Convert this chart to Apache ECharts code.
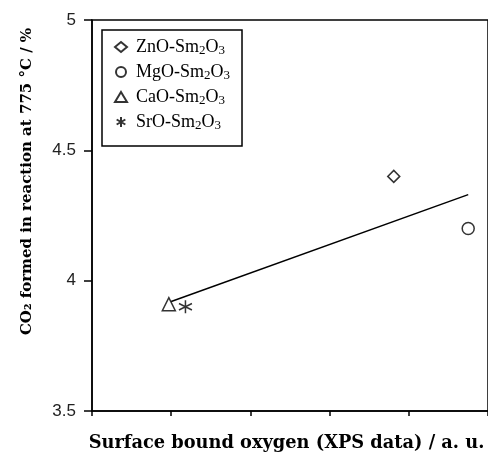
<!DOCTYPE html>
<html>
<head>
<meta charset="utf-8">
<script src="https://cdn.jsdelivr.net/npm/echarts@6/dist/echarts.min.js"></script>
<style>
  html, body { margin: 0; padding: 0; background: #fff; }
  #chart { width: 488px; height: 457px; }
</style>
</head>
<body>
<div id="chart"></div>
<script>
const catalysts = ['ZnO-Sm₂O₃', 'MgO-Sm₂O₃', 'CaO-Sm₂O₃', 'SrO-Sm₂O₃']
const symbols = ['diamond', 'circle', 'triangle', 'path://M0,-10L0,10M-8.7,-5L8.7,5M-8.7,5L8.7,-5']
const symbolSizes = [12, 12, 13, 13]
const oxygenXps = [3.81, 4.75, 0.97, 1.18]
const co2Formed = [4.40, 4.20, 3.91, 3.90]
// linear fit line ends
const fitX = [1.0, 4.75]
const fitY = [3.92, 4.33]
const yTicks = [3.5, 4, 4.5, 5]

const chart = echarts.init(document.getElementById('chart'))

const series = catalysts.map((name, i) => ({
  name: name,
  type: 'scatter',
  symbol: symbols[i],
  symbolSize: symbolSizes[i],
  itemStyle: {
    color: i === 3 ? 'none' : '#fff',
    borderColor: '#000',
    borderWidth: 1.5
  },
  data: [[oxygenXps[i], co2Formed[i]]],
  z: 3
}))

series.push({
  name: 'fit',
  type: 'line',
  symbol: 'none',
  lineStyle: { color: '#000', width: 1.5 },
  data: fitX.map((x, i) => [x, fitY[i]]),
  z: 2
})

// turn the unicode subscripts into rich text so they sit lower and bigger
const subMap = { '₂': '2', '₃': '3' }
const richName = (name) =>
  '{g| }' + name.split(/([₂₃])/).filter(s => s).map(s => subMap[s] ? '{s|' + subMap[s] + '}' : '{t|' + s + '}').join('')

chart.setOption({
  animation: false,
  grid: {
    left: 92,
    top: 20,
    right: -4,
    bottom: 45,
    show: true,
    borderColor: '#000',
    borderWidth: 1.5
  },
  legend: {
    data: catalysts,
    orient: 'vertical',
    left: 102,
    top: 30,
    padding: [8, 12, 14, 12],
    itemGap: 6,
    itemWidth: 12,
    itemHeight: 10,
    borderColor: '#000',
    borderWidth: 1.5,
    formatter: richName,
    textStyle: {
      color: '#000',
      rich: {
        g: { width: 4, fontSize: 10 },
        t: { fontFamily: 'Liberation Serif', fontSize: 18, lineHeight: 20, color: '#000' },
        s: { fontFamily: 'Liberation Serif', fontSize: 13, lineHeight: 12, verticalAlign: 'bottom', color: '#000' }
      }
    }
  },
  xAxis: {
    type: 'value',
    min: 0,
    max: 5,
    interval: 1,
    name: 'Surface bound oxygen (XPS data) / a. u.',
    nameLocation: 'middle',
    nameGap: 23,
    nameTextStyle: {
      fontFamily: 'DejaVu Serif',
      fontWeight: 'bold',
      fontSize: 17.8,
      color: '#000',
      padding: [0, 7, 0, 0]
    },
    axisLine: { lineStyle: { color: '#000', width: 1.5 } },
    axisTick: { show: true, length: 5, lineStyle: { color: '#000', width: 1.5 } },
    axisLabel: { show: false },
    splitLine: { show: false }
  },
  yAxis: {
    type: 'value',
    min: yTicks[0],
    max: yTicks[yTicks.length - 1],
    interval: 0.5,
    name: 'CO₂ formed in reaction at 775 °C / %',
    nameLocation: 'middle',
    nameGap: 57,
    nameTextStyle: {
      fontFamily: 'DejaVu Serif',
      fontWeight: 'bold',
      fontSize: 15,
      color: '#000',
      padding: [0, 0, 0, 68]
    },
    axisLine: { show: true, lineStyle: { color: '#000', width: 1.5 } },
    axisTick: { show: true, length: 8, lineStyle: { color: '#000', width: 1.5 } },
    axisLabel: {
      margin: 16,
      fontFamily: 'Liberation Sans',
      fontSize: 17,
      color: '#222'
    },
    splitLine: { show: false }
  },
  series: series
})
</script>
</body>
</html>
